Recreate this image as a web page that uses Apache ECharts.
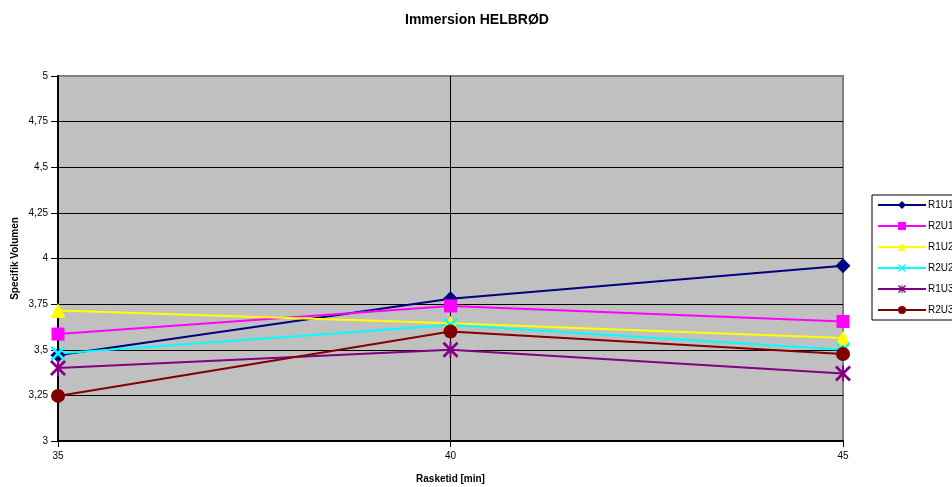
<!DOCTYPE html>
<html>
<head>
<meta charset="utf-8">
<script src="https://cdn.jsdelivr.net/npm/echarts@6/dist/echarts.min.js"></script>
<style>html,body{margin:0;padding:0;background:#fff}#c{width:952px;height:487px}</style>
</head>
<body>
<div id="c"></div>
<script>
const xValues = [35, 40, 45];
const seriesNames = ['R1U1', 'R2U1', 'R1U2', 'R2U2', 'R1U3', 'R2U3'];
const R1U1 = [3.47, 3.78, 3.96];
const R2U1 = [3.586, 3.74, 3.655];
const R1U2 = [3.715, 3.645, 3.565];
const R2U2 = [3.48, 3.635, 3.5];
const R1U3 = [3.40, 3.50, 3.37];
const R2U3 = [3.247, 3.60, 3.477];
const seriesValues = [R1U1, R2U1, R1U2, R2U2, R1U3, R2U3];

const colors = ['#000080', '#FF00FF', '#FFFF00', '#00FFFF', '#800080', '#800000'];
const xPath = 'path://M0,1.2L1.2,0L5,3.8L8.8,0L10,1.2L6.2,5L10,8.8L8.8,10L5,6.2L1.2,10L0,8.8L3.8,5Z';
const starPath = 'path://M0,1.2L1.2,0L5,3.8L8.8,0L10,1.2L6.2,5L10,8.8L8.8,10L5,6.2L1.2,10L0,8.8L3.8,5Z M4.4,0L5.6,0L5.6,10L4.4,10Z';
const symbols = ['diamond', 'rect', 'triangle', xPath, starPath, 'circle'];
const sizes = [15, 13, 15, 15, 16, 14];

const chart = echarts.init(document.getElementById('c'), null, {renderer: 'canvas'});
const font = 'Liberation Sans, Arial, sans-serif';
chart.setOption({
  animation: false,
  textStyle: {fontFamily: font},
  title: {
    text: 'Immersion HELBRØD', left: 400, top: 8,
    textStyle: {fontSize: 14, fontWeight: 'bold', color: '#000', fontFamily: font}
  },
  legend: {
    orient: 'vertical', left: 872, top: 195,
    data: seriesNames,
    borderColor: '#000', borderWidth: 1, padding: [5, 30, 5, 5],
    itemWidth: 48, itemHeight: 10, itemGap: 11,
    textStyle: {fontSize: 10, color: '#000', fontFamily: font, padding: [0, 0, 0, -3]}
  },
  grid: {
    left: 58, right: 109, top: 76, bottom: 46,
    containLabel: false, outerBoundsMode: 'none',
    show: true, backgroundColor: '#C0C0C0', borderColor: '#808080', borderWidth: 2
  },
  xAxis: {
    type: 'value', min: 35, max: 45, interval: 5,
    name: 'Rasketid [min]', nameLocation: 'middle', nameGap: 33,
    nameTextStyle: {fontSize: 10, fontWeight: 'bold', color: '#000', fontFamily: font},
    axisLine: {show: true, lineStyle: {color: '#000', width: 2}},
    axisTick: {show: true, length: 6, lineStyle: {color: '#000', width: 1}},
    axisLabel: {fontSize: 10, color: '#000', margin: 10, fontFamily: font},
    splitLine: {show: true, lineStyle: {color: ['#000', '#000', '#808080'], width: 1}}
  },
  yAxis: {
    type: 'value', min: 3, max: 5, interval: 0.25,
    name: 'Specifik Volumen', nameLocation: 'middle', nameGap: 38, nameRotate: 90,
    nameMoveOverlap: false,
    nameTextStyle: {fontSize: 10, fontWeight: 'bold', color: '#000', fontFamily: font},
    axisLine: {show: true, lineStyle: {color: '#000', width: 2}},
    axisTick: {show: true, length: 7, lineStyle: {color: '#000', width: 1}},
    axisLabel: {fontSize: 10, color: '#000', margin: 10, fontFamily: font,
      formatter: v => String(v).replace('.', ',')},
    splitLine: {show: true, lineStyle: {color: ['#000', '#000', '#000', '#000', '#000', '#000', '#000', '#000', '#808080'], width: 1}}
  },
  series: seriesNames.map((n, i) => ({
    name: n, type: 'line',
    data: xValues.map((x, j) => [x, seriesValues[i][j]]),
    symbol: symbols[i], symbolSize: sizes[i], showAllSymbol: true,
    lineStyle: {color: colors[i], width: 2},
    itemStyle: {color: colors[i], borderWidth: 0},
    emphasis: {disabled: true}
  }))
});
</script>
</body>
</html>
